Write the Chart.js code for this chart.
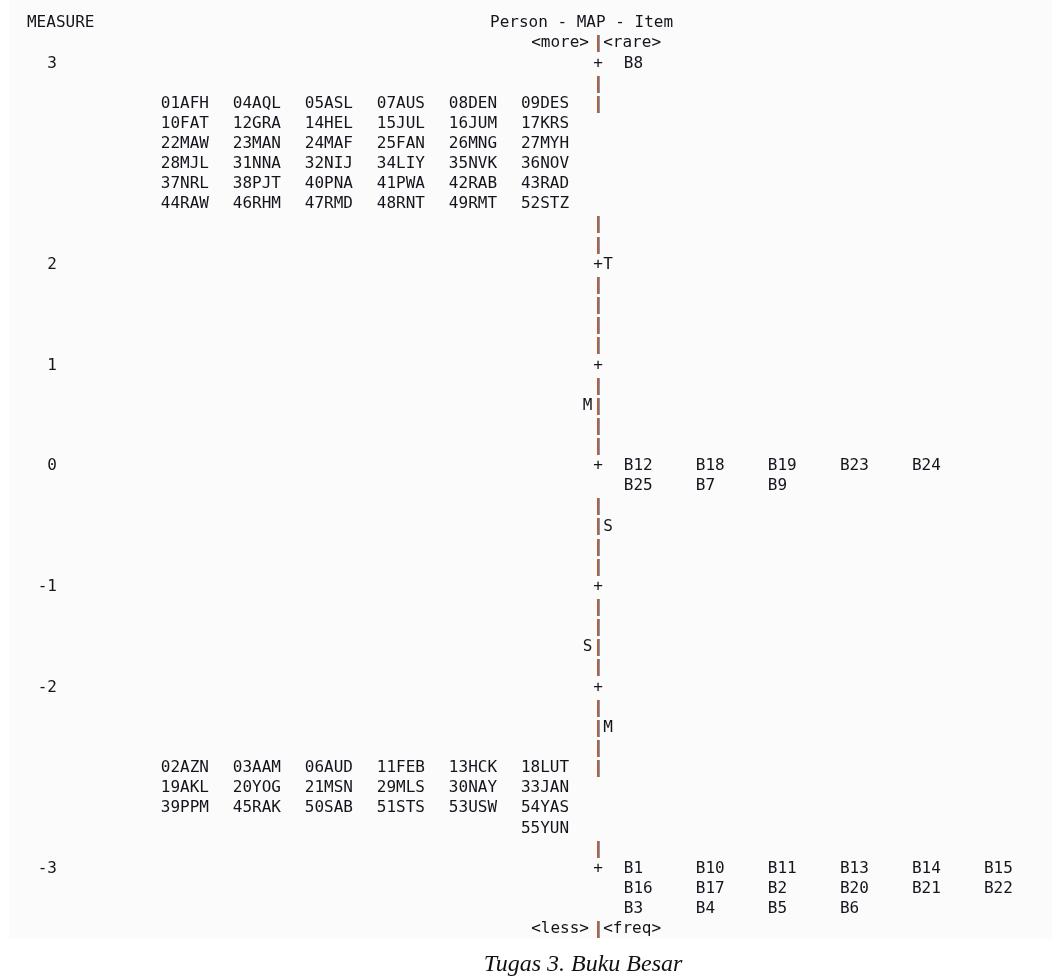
<!DOCTYPE html>
<html>
<head>
<meta charset="utf-8">
<title>Person - MAP - Item</title>
<script src="https://cdn.jsdelivr.net/npm/chart.js@4.4.1/dist/chart.umd.min.js"></script>
<style>
  html, body { margin: 0; padding: 0; background: #ffffff; }
  #wrap { width: 1064px; height: 979px; }
</style>
</head>
<body>
<div id="wrap"><canvas id="mapChart" width="1064" height="979"></canvas></div>
<script>
// Measure (logit) values and the text line each one is printed on
const measureValues = [3, 2, 1, 0, -1, -2, -3];
const measureRows = [2, 12, 17, 22, 28, 33, 42];

// Persons, listed 6 per line starting at a given text line
const personsHigh = [
  '01AFH', '04AQL', '05ASL', '07AUS', '08DEN', '09DES',
  '10FAT', '12GRA', '14HEL', '15JUL', '16JUM', '17KRS',
  '22MAW', '23MAN', '24MAF', '25FAN', '26MNG', '27MYH',
  '28MJL', '31NNA', '32NIJ', '34LIY', '35NVK', '36NOV',
  '37NRL', '38PJT', '40PNA', '41PWA', '42RAB', '43RAD',
  '44RAW', '46RHM', '47RMD', '48RNT', '49RMT', '52STZ'
];
const personsLow = [
  '02AZN', '03AAM', '06AUD', '11FEB', '13HCK', '18LUT',
  '19AKL', '20YOG', '21MSN', '29MLS', '30NAY', '33JAN',
  '39PPM', '45RAK', '50SAB', '51STS', '53USW', '54YAS',
  '55YUN'
];
const personsHighRow = 4;
const personsLowRow = 37;

// Items at each measure line
const itemsTop = ['B8'];
const itemsMiddle = ['B12', 'B18', 'B19', 'B23', 'B24', 'B25', 'B7', 'B9'];
const itemsBottom = [
  'B1', 'B10', 'B11', 'B13', 'B14', 'B15',
  'B16', 'B17', 'B2', 'B20', 'B21', 'B22',
  'B3', 'B4', 'B5', 'B6'
];
const itemGroupRows = [2, 22, 42];
const itemGroupPerLine = [6, 5, 6];

// Centre column of the map, one symbol per text line (line 0 = heading)
const axisSymbols = [
  '', '|', '+', '|', '|', '', '', '', '', '',
  '|', '|', '+', '|', '|', '|', '|', '+', '|', '|',
  '|', '|', '+', '', '|', '|', '|', '|', '+', '|',
  '|', '|', '|', '+', '|', '|', '|', '|', '', '',
  '', '|', '+', '', '', '|'
];

// M / S / T markers for person side (left) and item side (right)
const personMarkLabels = ['M', 'S'];
const personMarkRows = [19, 31];
const itemMarkLabels = ['T', 'S', 'M'];
const itemMarkRows = [12, 25, 35];

// Heading text
const headTitle = 'Person - MAP - Item';
const headMeasure = 'MEASURE';
const headTop = ['<more>', '<rare>'];
const headBottom = ['<less>', '<freq>'];
const caption = 'Tugas 3. Buku Besar';

(function() {
  const MONO = '"DejaVu Sans Mono", "Liberation Mono", monospace';
  const INK = '#14141c';
  const AXIS_COL = 55;      // character column of the "|" line
  const PERSON_COL = 13;    // first person column
  const ITEM_COL = 58;      // first item column
  const STEP = 7;           // columns between list entries

  const datasets = [];

  // push a dataset whose points are drawn as text
  function addText(texts, points, align) {
    datasets.push({
      data: points,
      texts: texts,
      textAlign: align,
      pointRadius: 0,
      pointHoverRadius: 0
    });
  }

  // items: left-justified lines
  function listPoints(list, startRow, startCol, perLine) {
    return list.map((t, i) => ({
      x: startCol + STEP * (i % perLine),
      y: startRow + Math.floor(i / perLine)
    }));
  }

  // persons: a short last line is pushed to the right, next to the axis
  function personPoints(list, startRow) {
    const lastCount = list.length % 6 || 6;
    const lastLine = Math.floor((list.length - 1) / 6);
    return list.map((t, i) => {
      const line = Math.floor(i / 6);
      const shift = line === lastLine ? 6 - lastCount : 0;
      return { x: PERSON_COL + STEP * (i % 6 + shift), y: startRow + line };
    });
  }

  // persons
  addText(personsHigh, personPoints(personsHigh, personsHighRow), 'left');
  addText(personsLow, personPoints(personsLow, personsLowRow), 'left');

  // items
  [itemsTop, itemsMiddle, itemsBottom].forEach((grp, g) => {
    addText(grp, listPoints(grp, itemGroupRows[g], ITEM_COL, itemGroupPerLine[g]), 'left');
  });

  // "+" at the measure lines, "|" everywhere else on the axis
  const plusRows = [];
  const barRows = [];
  axisSymbols.forEach((s, r) => {
    if (s === '+') plusRows.push(r);
    if (s === '|') barRows.push(r);
  });
  addText(plusRows.map(() => '+'), plusRows.map(r => ({ x: AXIS_COL + 0.5, y: r })), 'center');

  datasets.push({
    data: barRows.map(r => ({ x: AXIS_COL + 0.5, y: r })),
    bars: true,
    pointRadius: 0,
    pointHoverRadius: 0
  });

  // M / S / T markers
  addText(personMarkLabels, personMarkRows.map(r => ({ x: AXIS_COL - 1, y: r })), 'left');
  addText(itemMarkLabels, itemMarkRows.map(r => ({ x: AXIS_COL + 1, y: r })), 'left');

  // headings
  addText([headMeasure, headTitle], [{ x: 0, y: 0 }, { x: 45, y: 0 }], 'left');
  addText(headTop, [{ x: 49, y: 1 }, { x: 56, y: 1 }], 'left');
  addText(headBottom, [{ x: 49, y: 45 }, { x: 56, y: 45 }], 'left');

  // draws the text and the "|" segments at the scaled point positions
  const textPlugin = {
    id: 'textMarks',
    afterDatasetsDraw(chart) {
      const ctx = chart.ctx;
      ctx.save();
      ctx.font = '16px ' + MONO;
      ctx.textBaseline = 'middle';
      chart.data.datasets.forEach((ds, di) => {
        const meta = chart.getDatasetMeta(di);
        if (ds.bars) {
          // two-tone bar, like the screen-rendered "|"
          meta.data.forEach(pt => {
            const x = Math.round(pt.x) - 1;
            const y = Math.round(pt.y) - 8;
            ctx.fillStyle = '#c65c22';
            ctx.fillRect(x, y, 2, 17);
            ctx.fillStyle = '#5ea3ea';
            ctx.fillRect(x + 2, y, 1, 17);
          });
          return;
        }
        if (!ds.texts) return;
        ctx.fillStyle = INK;
        ctx.textAlign = ds.textAlign;
        meta.data.forEach((pt, i) => {
          ctx.fillText(ds.texts[i], pt.x, pt.y);
        });
      });
      ctx.restore();
    }
  };

  // light panel behind the listing
  const panelPlugin = {
    id: 'panel',
    beforeDraw(chart) {
      const ctx = chart.ctx;
      ctx.save();
      ctx.fillStyle = '#fbfbfb';
      ctx.fillRect(9, 0, 1043, 939);
      ctx.restore();
    }
  };

  const ctx = document.getElementById('mapChart').getContext('2d');
  new Chart(ctx, {
    type: 'scatter',
    data: { datasets: datasets },
    plugins: [panelPlugin, textPlugin],
    options: {
      responsive: false,
      animation: false,
      devicePixelRatio: 1,
      layout: { padding: { top: 3, left: 0, right: 0, bottom: 0 }, autoPadding: false },
      plugins: {
        legend: { display: false },
        tooltip: { enabled: false },
        title: {
          display: true,
          position: 'bottom',
          fullSize: false,
          text: caption,
          color: '#111111',
          font: { family: '"Liberation Serif", "Times New Roman", serif', style: 'italic', weight: 'normal', size: 24 },
          padding: { top: 1, bottom: 0 }
        }
      },
      scales: {
        x: {
          type: 'linear',
          display: false,
          min: 7.29,
          max: 100.78
        },
        y: {
          type: 'linear',
          reverse: true,
          min: -1,
          max: 46,
          grid: { display: false, drawTicks: false },
          border: { display: false },
          afterBuildTicks: scale => {
            scale.ticks = measureRows.map(r => ({ value: r }));
          },
          afterFit: scale => {
            scale.width = 102;
            scale.paddingTop = 0;
            scale.paddingBottom = 0;
          },
          ticks: {
            padding: 45,
            color: INK,
            font: { family: MONO, size: 16 },
            callback: value => measureValues[measureRows.indexOf(value)]
          }
        }
      }
    }
  });
})();
</script>
</body>
</html>
